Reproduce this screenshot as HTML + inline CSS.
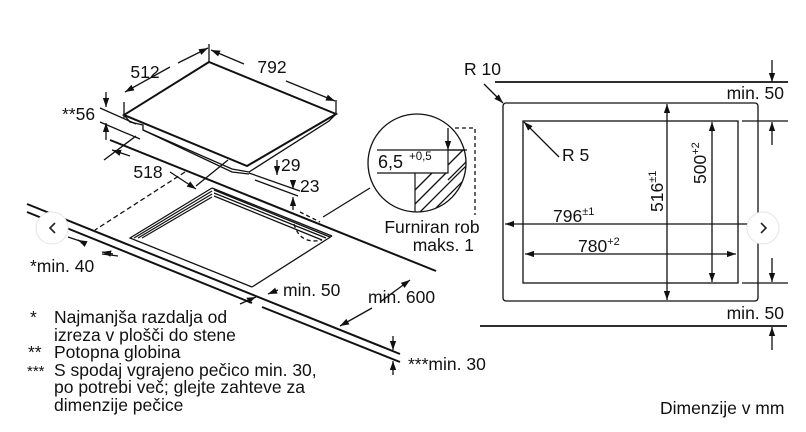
<!DOCTYPE html>
<html><head><meta charset="utf-8"><style>
html,body{margin:0;padding:0;background:#fff;}
svg{display:block;font-family:"Liberation Sans",Arial,sans-serif;}
</style></head><body>
<svg width="806" height="432" viewBox="0 0 806 432" xmlns="http://www.w3.org/2000/svg">
<defs>
<marker id="a" viewBox="0 0 10 10" refX="10" refY="5" markerWidth="7" markerHeight="7" orient="auto-start-reverse"><path d="M0,1.5 L10,5 L0,8.5 z" fill="#111"/></marker>
<clipPath id="cc"><circle cx="417" cy="163" r="49"/></clipPath>
</defs>
<rect width="806" height="432" fill="#fff"/>
<g stroke="#111" fill="none" stroke-width="1.3">
<!-- hob -->
<path d="M124,115 L209,62 L336,114 L247,166 Z" stroke-width="2"/>
<path d="M124,115 L130,122 L143,125 L143,130 L232,169 L249,172 L329,121 L336,114"/>
<path d="M143,130 L232,172 L249,174"/>
<!-- hob dims -->
<path d="M124,102 L124,118 M209,44 L209,62 M336,100 L336,114"/>
<path d="M178,63 L208,48" marker-end="url(#a)"/><path d="M170,67 L125,92" marker-end="url(#a)"/>
<path d="M244,64 L211,50" marker-end="url(#a)"/><path d="M286,81 L335,101" marker-end="url(#a)"/>
<!-- 56 -->
<path d="M100,108 L136,124 M100,122 L140,139"/>
<path d="M106,92 L106,107" marker-end="url(#a)"/><path d="M106,140 L106,123" marker-end="url(#a)"/>
<!-- countertop back line -->
<path d="M110,140 L436,271" stroke-width="2"/>
<!-- 518 -->
<path d="M104,160 L136,136 M196,186 L228,160"/>
<path d="M130,156 L112,150" marker-end="url(#a)"/><path d="M170,172 L196,189" marker-end="url(#a)"/>
<!-- 29 23 -->
<path d="M249,173 L300,191 M255,180 L298,196"/>
<path d="M277,160 L277,175" marker-end="url(#a)"/>
<path d="M293,180 L293,189" marker-end="url(#a)"/><path d="M293,210 L293,197" marker-end="url(#a)"/>
<!-- front edge -->
<path d="M27,204 L400,354" stroke-width="2"/>
<path d="M27,212 L252,303 M262,307 L400,362" stroke-width="2"/>
<!-- cutout -->
<path d="M212,188 L130,238 L252,287 M212,188 L332,236"/>
<path d="M212,191 L134,238 M212,194 L138,238 M212,197 L142,238"/>
<path d="M214,190 L330,237 M214,193 L326,238 M214,196 L322,240"/>
<path d="M332,236 L252,287"/>
<!-- dashed -->
<path d="M185,172 L95,230" stroke-dasharray="5,3"/>
<path d="M300,212 L320,222 M294,224 Q300,245 322,240" stroke-dasharray="4,3"/>
<!-- min 40 -->
<path d="M68,237 L80,241 M102,254 L118,256"/>
<path d="M80,241 L78,240" marker-end="url(#a)"/>
<path d="M113,254 L102,252" marker-end="url(#a)"/>
<!-- min 50 -->
<path d="M278,290 L268,294" marker-end="url(#a)"/>
<path d="M240,304 L256,297" marker-end="url(#a)"/>
<!-- min 600 -->
<path d="M380,302 L410,280" marker-end="url(#a)"/>
<path d="M372,308 L340,326" marker-end="url(#a)"/>
<!-- min 30 -->
<path d="M393,336 L393,350" marker-end="url(#a)"/><path d="M393,375 L393,361" marker-end="url(#a)"/>
<!-- detail circle -->
<circle cx="417" cy="163" r="49"/>
<path d="M370,188 L323,217"/>
<g clip-path="url(#cc)">
<path d="M448,150 L470,150 L470,220 L415,220 L415,173 L448,173 Z" stroke-width="1.2"/>
<path d="M415,190 L432,173 M415,204 L446,173 M420,212 L470,162 M432,212 L470,174 M444,212 L470,186 M448,165 L463,150 M448,180 L470,158"/>
</g>
<path d="M377,150 L467,150 M377,173 L415,173"/>
<path d="M448,128 L448,150" marker-end="url(#a)"/>
<path d="M455,128 L475,128 L475,215" stroke-dasharray="4,3"/>
<!-- right drawing -->
<path d="M495,82 L788,82 M480,326 L787,326" stroke-width="1.8"/>
<rect x="503" y="103" width="255" height="198" rx="3"/>
<rect x="523" y="121" width="215" height="162"/>
<path d="M742,121 L788,121 M742,283 L788,283"/>
<path d="M772,60 L772,82" marker-end="url(#a)"/>
<path d="M772,145 L772,122" marker-end="url(#a)"/>
<path d="M772,258 L772,282" marker-end="url(#a)"/>
<path d="M772,350 L772,327" marker-end="url(#a)"/>
<path d="M667,104 L667,300" marker-start="url(#a)" marker-end="url(#a)"/>
<path d="M712,122 L712,282" marker-start="url(#a)" marker-end="url(#a)"/>
<path d="M505,224 L748,224" marker-start="url(#a)"/>
<path d="M525,254 L736,254" marker-start="url(#a)" marker-end="url(#a)"/>
<path d="M559,157 L524,122" marker-end="url(#a)"/>
<path d="M484,84 L503,103" marker-end="url(#a)"/>
</g>
<g font-size="17.5" fill="#111">
<text x="145" y="78" text-anchor="middle">512</text>
<text x="272" y="73" text-anchor="middle">792</text>
<text x="62" y="120">**56</text>
<text x="148" y="178" text-anchor="middle">518</text>
<text x="281" y="171">29</text>
<text x="300" y="192">23</text>
<text x="30" y="272">*min. 40</text>
<text x="283" y="296">min. 50</text>
<text x="368" y="303">min. 600</text>
<text x="408" y="370">***min. 30</text>
<text x="378" y="168" font-size="18">6,5</text>
<text x="409" y="160" font-size="11.5">+0,5</text>
<text x="432" y="233" text-anchor="middle">Furniran rob</text>
<text x="474" y="251" text-anchor="end">maks. 1</text>
<text x="464" y="75">R 10</text>
<text x="562" y="161">R 5</text>
<text x="784" y="99" text-anchor="end">min. 50</text>
<text x="784" y="319" text-anchor="end">min. 50</text>
<text x="553" y="222">796<tspan font-size="11" dy="-7">±1</tspan></text>
<text x="578" y="252">780<tspan font-size="11" dy="-7">+2</tspan></text>
<text transform="translate(663,212) rotate(-90)">516<tspan font-size="11" dy="-7">±1</tspan></text>
<text transform="translate(706,184) rotate(-90)">500<tspan font-size="11" dy="-7">+2</tspan></text>
<text x="30" y="323">*</text><text x="54" y="323">Najmanjša razdalja od</text>
<text x="54" y="341">izreza v plošči do stene</text>
<text x="28" y="358">**</text><text x="54" y="358">Potopna globina</text>
<text x="27" y="376" font-size="15">***</text><text x="54" y="376">S spodaj vgrajeno pečico min. 30,</text>
<text x="54" y="393">po potrebi več; glejte zahteve za</text>
<text x="54" y="411">dimenzije pečice</text>
<text x="660" y="414">Dimenzije v mm</text>
</g>
<circle cx="52" cy="228" r="16" fill="#fff" stroke="#e4e4e4"/>
<path d="M55,223 L50,228 L55,233" stroke="#222" stroke-width="1.6" fill="none"/>
<circle cx="763" cy="228" r="16" fill="#fff" stroke="#e4e4e4"/>
<path d="M761,223 L766,228 L761,233" stroke="#222" stroke-width="1.6" fill="none"/>
</svg>
</body></html>
